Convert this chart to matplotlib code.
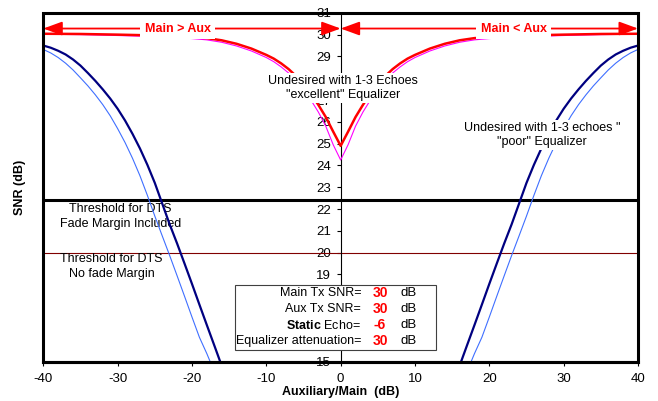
import matplotlib
matplotlib.use("Agg")
import matplotlib.pyplot as plt
from matplotlib.patches import Rectangle
import numpy as np

plt.rcParams["font.family"] = ["Liberation Sans", "DejaVu Sans"]
plt.rcParams["mathtext.fontset"] = "custom"
plt.rcParams["mathtext.rm"] = "Liberation Sans"
plt.rcParams["mathtext.bf"] = "Liberation Sans:bold"
plt.rcParams["axes.unicode_minus"] = False

# --- data (aux/main ratio in dB -> SNR in dB) ---
# "poor" equalizer, left half; the right half is the mirror image
poor_x = [-40, -39, -38, -37, -36, -35, -34, -33, -32, -31, -30, -29, -28, -27,
          -26, -25, -24, -23, -22, -21, -20, -19, -18, -17, -16.2]
poor_snr = [29.50, 29.40, 29.26, 29.09, 28.86, 28.58, 28.24, 27.88, 27.49, 27.07,
            26.60, 26.06, 25.45, 24.78, 24.03, 23.20, 22.25, 21.30, 20.42, 19.50,
            18.57, 17.62, 16.68, 15.75, 15.0]
poor_thin_x = [-40, -39, -38, -37, -36, -35, -34, -33, -32, -31, -30, -29, -28,
               -27, -26, -25, -24, -23, -22, -21, -20, -19, -18, -17.55]
poor_thin_snr = [29.32, 29.16, 28.95, 28.69, 28.38, 28.02, 27.65, 27.24, 26.79,
                 26.28, 25.69, 25.05, 24.33, 23.53, 22.63, 21.68, 20.77, 19.87,
                 18.94, 18.00, 17.05, 16.12, 15.37, 15.0]

# "excellent" equalizer, left half down to the dip at 0 dB
exc_x = [-40, -35, -30, -26, -23, -20, -18, -16, -14, -12, -10, -9, -8, -7, -6,
         -5, -4, -3, -2, -1, 0]
exc_snr = [30.04, 30.03, 30.0, 29.97, 29.93, 29.88, 29.84, 29.74, 29.58, 29.36,
           29.07, 28.90, 28.68, 28.42, 28.10, 27.72, 27.28, 26.78, 26.22, 25.55, 24.9]
exc_thin_snr = [30.02, 30.0, 29.96, 29.92, 29.88, 29.82, 29.76, 29.65, 29.48,
                29.25, 28.95, 28.76, 28.52, 28.24, 27.90, 27.50, 27.00, 26.45,
                25.80, 24.95, 24.25]

fade_threshold = 22.4
dts_threshold = 20.0

params = ["Main Tx SNR=", "Aux Tx SNR=", r"$\bf{Static}$ Echo=", "Equalizer attenuation="]
param_values = ["30", "30", "-6", "30"]

x_ticks = [-40, -30, -20, -10, 0, 10, 20, 30, 40]
y_ticks = list(range(15, 32))


def mirror(x, y):
    """Extend a left-half curve to the symmetric right half."""
    x = np.asarray(x, dtype=float)
    y = np.asarray(y, dtype=float)
    if x[-1] == 0:
        return np.r_[x, -x[-2::-1]], np.r_[y, y[-2::-1]]
    return np.r_[x, np.nan, -x[::-1]], np.r_[y, np.nan, y[::-1]]


fig = plt.figure(figsize=(6.58, 4.01), dpi=100)
ax = fig.add_axes([0.0658, 0.098, 0.9038, 0.870])
ax.set_xlim(-40, 40)
ax.set_ylim(15, 31)

line_kw = dict(solid_joinstyle="round", solid_capstyle="round", zorder=3)
px, py = mirror(poor_x, poor_snr)
ax.plot(px, py, color="#000080", lw=1.6, **line_kw)
px, py = mirror(poor_thin_x, poor_thin_snr)
ax.plot(px, py, color="#3f6fff", lw=0.8, **line_kw)
ex, ey = mirror(exc_x, exc_thin_snr)
ax.plot(ex, ey, color="#ff00ff", lw=0.8, **line_kw)
ex, ey = mirror(exc_x, exc_snr)
ax.plot(ex, ey, color="#ff0000", lw=1.8, **line_kw)

ax.axhline(fade_threshold, color="black", lw=2.2, zorder=2)
ax.axhline(dts_threshold, color="#800000", lw=0.8, zorder=2)

# y axis sits at x = 0, the plot area gets a heavy frame
for side in ("top", "right"):
    ax.spines[side].set_visible(False)
ax.spines["left"].set_position(("data", 0))
ax.spines["left"].set_linewidth(0.8)
ax.spines["bottom"].set_linewidth(2.2)
ax.add_patch(Rectangle((0, 0), 1, 1, transform=ax.transAxes, fill=False,
                       lw=2.2, ec="black", clip_on=False, zorder=6))

ax.set_xticks(x_ticks)
ax.set_yticks(y_ticks)
ax.tick_params(axis="both", direction="out", length=3, width=0.8, labelsize=9.5)
ax.tick_params(axis="x", pad=5)
ax.tick_params(axis="y", pad=4)
ax.set_xlabel("Auxiliary/Main  (dB)", fontsize=9, fontweight="bold", labelpad=1)
fig.text(0.030, 0.533, "SNR (dB)", rotation=90, ha="center", va="center",
         fontsize=9, fontweight="bold")

# direction arrows along the top
arrow_y = 30.28
arrow_kw = dict(arrowstyle="<|-|>,head_length=1.15,head_width=0.42",
                color="#ff0000", lw=1.3, shrinkA=0, shrinkB=0, mutation_scale=10)
ax.annotate("", xy=(-40, arrow_y), xytext=(0, arrow_y), arrowprops=arrow_kw, zorder=4)
ax.annotate("", xy=(0, arrow_y), xytext=(40, arrow_y), arrowprops=arrow_kw, zorder=4)
white = dict(boxstyle="square,pad=0.35", fc="white", ec="none")
ax.text(-21.9, arrow_y, "Main > Aux", color="#ff0000", fontsize=9, fontweight="bold",
        ha="center", va="center", bbox=white, zorder=5)
ax.text(23.3, arrow_y, "Main < Aux", color="#ff0000", fontsize=9, fontweight="bold",
        ha="center", va="center", bbox=white, zorder=5)

ax.text(0.3, 27.55, 'Undesired with 1-3 Echoes\n"excellent" Equalizer', fontsize=9,
        ha="center", va="center", linespacing=1.3,
        bbox=dict(boxstyle="square,pad=0.1", fc="white", ec="none"), zorder=5)
ax.text(27.1, 25.4, 'Undesired with 1-3 echoes "\n"poor" Equalizer', fontsize=9,
        ha="center", va="center", linespacing=1.3,
        bbox=dict(boxstyle="square,pad=0.1", fc="white", ec="none"), zorder=5)
ax.text(-29.6, 21.67, "Threshold for DTS\nFade Margin Included", fontsize=9,
        ha="center", va="center", linespacing=1.3, zorder=2)
ax.text(-30.8, 19.37, "Threshold for DTS\nNo fade Margin", fontsize=9,
        ha="center", va="center", linespacing=1.3, zorder=2)

# parameter box
ax.add_patch(Rectangle((-14.17, 15.54), 27.04, 2.98, fc="white", ec="#404040",
                       lw=0.8, zorder=5))
row_y = [18.15, 17.41, 16.68, 15.96]
for label, value, yy in zip(params, param_values, row_y):
    ax.text(2.75, yy, label, fontsize=9, ha="right", va="center", zorder=6)
    ax.text(5.3, yy, value, fontsize=10, color="#ff0000", fontweight="bold",
            ha="center", va="center", zorder=6)
    ax.text(8.1, yy, "dB", fontsize=9.5, ha="left", va="center", zorder=6)

fig.savefig("out.png", dpi=100)
